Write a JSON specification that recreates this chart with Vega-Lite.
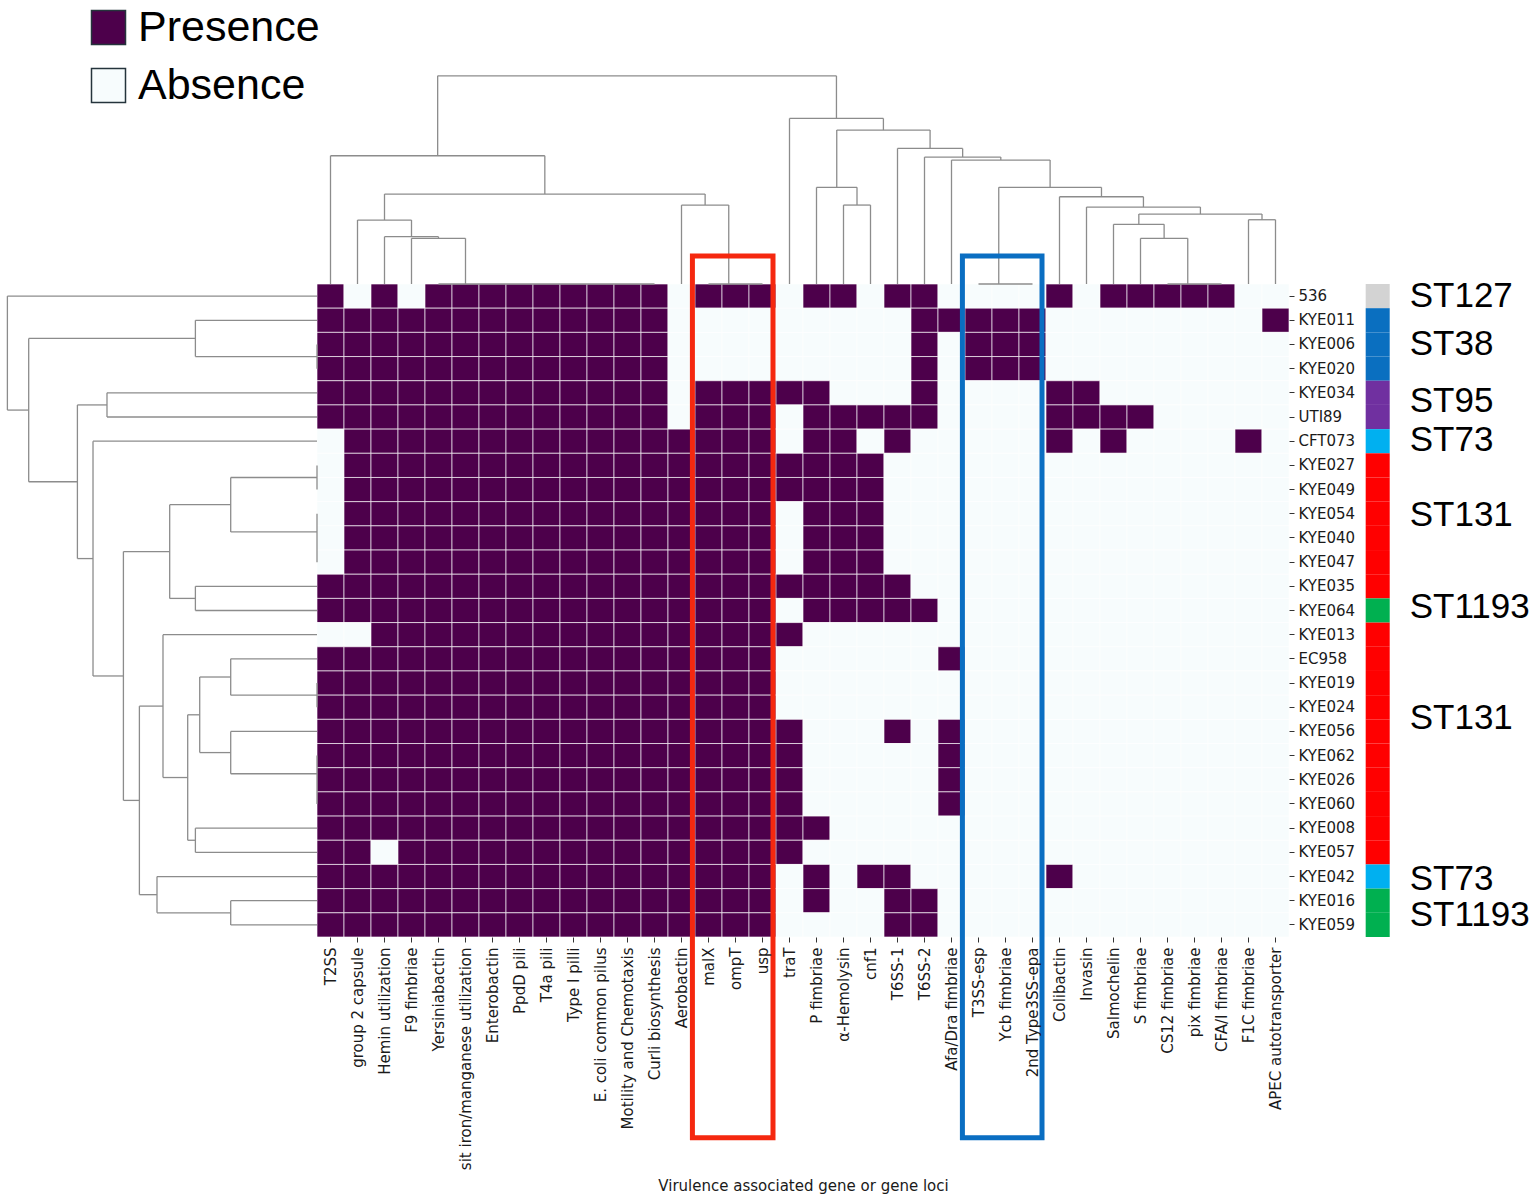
{
"$schema": "https://vega.github.io/schema/vega-lite/v6.json",
"width": 972, "height": 653,
"autosize": {"type": "none"},
"padding": {"left": 317, "top": 284, "right": 247, "bottom": 266},
"background": "white",
"config": {"view": {"stroke": null}, "font": "DejaVu Sans"},
"datasets": {
"cells": [
{"s":"536","g":"T2SS","v":"Presence"},{"s":"536","g":"group 2 capsule","v":"Absence"},{"s":"536","g":"Hemin utilization","v":"Presence"},{"s":"536","g":"F9 fimbriae","v":"Absence"},{"s":"536","g":"Yersiniabactin","v":"Presence"},{"s":"536","g":"sit iron/manganese utilization","v":"Presence"},{"s":"536","g":"Enterobactin","v":"Presence"},{"s":"536","g":"PpdD pili","v":"Presence"},{"s":"536","g":"T4a pili","v":"Presence"},{"s":"536","g":"Type I pilli","v":"Presence"},{"s":"536","g":"E. coli common pilus","v":"Presence"},{"s":"536","g":"Motility and Chemotaxis","v":"Presence"},{"s":"536","g":"Curli biosynthesis","v":"Presence"},{"s":"536","g":"Aerobactin","v":"Absence"},{"s":"536","g":"malX","v":"Presence"},{"s":"536","g":"ompT","v":"Presence"},{"s":"536","g":"usp","v":"Presence"},{"s":"536","g":"traT","v":"Absence"},{"s":"536","g":"P fimbriae","v":"Presence"},{"s":"536","g":"α-Hemolysin","v":"Presence"},{"s":"536","g":"cnf1","v":"Absence"},{"s":"536","g":"T6SS-1","v":"Presence"},{"s":"536","g":"T6SS-2","v":"Presence"},{"s":"536","g":"Afa/Dra fimbriae","v":"Absence"},{"s":"536","g":"T3SS-esp","v":"Absence"},{"s":"536","g":"Ycb fimbriae","v":"Absence"},{"s":"536","g":"2nd Type3SS-epa","v":"Absence"},{"s":"536","g":"Colibactin","v":"Presence"},{"s":"536","g":"Invasin","v":"Absence"},{"s":"536","g":"Salmochelin","v":"Presence"},{"s":"536","g":"S fimbriae","v":"Presence"},{"s":"536","g":"CS12 fimbriae","v":"Presence"},{"s":"536","g":"pix fimbriae","v":"Presence"},{"s":"536","g":"CFA/I fimbriae","v":"Presence"},{"s":"536","g":"F1C fimbriae","v":"Absence"},{"s":"536","g":"APEC autotransporter","v":"Absence"},
{"s":"KYE011","g":"T2SS","v":"Presence"},{"s":"KYE011","g":"group 2 capsule","v":"Presence"},{"s":"KYE011","g":"Hemin utilization","v":"Presence"},{"s":"KYE011","g":"F9 fimbriae","v":"Presence"},{"s":"KYE011","g":"Yersiniabactin","v":"Presence"},{"s":"KYE011","g":"sit iron/manganese utilization","v":"Presence"},{"s":"KYE011","g":"Enterobactin","v":"Presence"},{"s":"KYE011","g":"PpdD pili","v":"Presence"},{"s":"KYE011","g":"T4a pili","v":"Presence"},{"s":"KYE011","g":"Type I pilli","v":"Presence"},{"s":"KYE011","g":"E. coli common pilus","v":"Presence"},{"s":"KYE011","g":"Motility and Chemotaxis","v":"Presence"},{"s":"KYE011","g":"Curli biosynthesis","v":"Presence"},{"s":"KYE011","g":"Aerobactin","v":"Absence"},{"s":"KYE011","g":"malX","v":"Absence"},{"s":"KYE011","g":"ompT","v":"Absence"},{"s":"KYE011","g":"usp","v":"Absence"},{"s":"KYE011","g":"traT","v":"Absence"},{"s":"KYE011","g":"P fimbriae","v":"Absence"},{"s":"KYE011","g":"α-Hemolysin","v":"Absence"},{"s":"KYE011","g":"cnf1","v":"Absence"},{"s":"KYE011","g":"T6SS-1","v":"Absence"},{"s":"KYE011","g":"T6SS-2","v":"Presence"},{"s":"KYE011","g":"Afa/Dra fimbriae","v":"Presence"},{"s":"KYE011","g":"T3SS-esp","v":"Presence"},{"s":"KYE011","g":"Ycb fimbriae","v":"Presence"},{"s":"KYE011","g":"2nd Type3SS-epa","v":"Presence"},{"s":"KYE011","g":"Colibactin","v":"Absence"},{"s":"KYE011","g":"Invasin","v":"Absence"},{"s":"KYE011","g":"Salmochelin","v":"Absence"},{"s":"KYE011","g":"S fimbriae","v":"Absence"},{"s":"KYE011","g":"CS12 fimbriae","v":"Absence"},{"s":"KYE011","g":"pix fimbriae","v":"Absence"},{"s":"KYE011","g":"CFA/I fimbriae","v":"Absence"},{"s":"KYE011","g":"F1C fimbriae","v":"Absence"},{"s":"KYE011","g":"APEC autotransporter","v":"Presence"},
{"s":"KYE006","g":"T2SS","v":"Presence"},{"s":"KYE006","g":"group 2 capsule","v":"Presence"},{"s":"KYE006","g":"Hemin utilization","v":"Presence"},{"s":"KYE006","g":"F9 fimbriae","v":"Presence"},{"s":"KYE006","g":"Yersiniabactin","v":"Presence"},{"s":"KYE006","g":"sit iron/manganese utilization","v":"Presence"},{"s":"KYE006","g":"Enterobactin","v":"Presence"},{"s":"KYE006","g":"PpdD pili","v":"Presence"},{"s":"KYE006","g":"T4a pili","v":"Presence"},{"s":"KYE006","g":"Type I pilli","v":"Presence"},{"s":"KYE006","g":"E. coli common pilus","v":"Presence"},{"s":"KYE006","g":"Motility and Chemotaxis","v":"Presence"},{"s":"KYE006","g":"Curli biosynthesis","v":"Presence"},{"s":"KYE006","g":"Aerobactin","v":"Absence"},{"s":"KYE006","g":"malX","v":"Absence"},{"s":"KYE006","g":"ompT","v":"Absence"},{"s":"KYE006","g":"usp","v":"Absence"},{"s":"KYE006","g":"traT","v":"Absence"},{"s":"KYE006","g":"P fimbriae","v":"Absence"},{"s":"KYE006","g":"α-Hemolysin","v":"Absence"},{"s":"KYE006","g":"cnf1","v":"Absence"},{"s":"KYE006","g":"T6SS-1","v":"Absence"},{"s":"KYE006","g":"T6SS-2","v":"Presence"},{"s":"KYE006","g":"Afa/Dra fimbriae","v":"Absence"},{"s":"KYE006","g":"T3SS-esp","v":"Presence"},{"s":"KYE006","g":"Ycb fimbriae","v":"Presence"},{"s":"KYE006","g":"2nd Type3SS-epa","v":"Presence"},{"s":"KYE006","g":"Colibactin","v":"Absence"},{"s":"KYE006","g":"Invasin","v":"Absence"},{"s":"KYE006","g":"Salmochelin","v":"Absence"},{"s":"KYE006","g":"S fimbriae","v":"Absence"},{"s":"KYE006","g":"CS12 fimbriae","v":"Absence"},{"s":"KYE006","g":"pix fimbriae","v":"Absence"},{"s":"KYE006","g":"CFA/I fimbriae","v":"Absence"},{"s":"KYE006","g":"F1C fimbriae","v":"Absence"},{"s":"KYE006","g":"APEC autotransporter","v":"Absence"},
{"s":"KYE020","g":"T2SS","v":"Presence"},{"s":"KYE020","g":"group 2 capsule","v":"Presence"},{"s":"KYE020","g":"Hemin utilization","v":"Presence"},{"s":"KYE020","g":"F9 fimbriae","v":"Presence"},{"s":"KYE020","g":"Yersiniabactin","v":"Presence"},{"s":"KYE020","g":"sit iron/manganese utilization","v":"Presence"},{"s":"KYE020","g":"Enterobactin","v":"Presence"},{"s":"KYE020","g":"PpdD pili","v":"Presence"},{"s":"KYE020","g":"T4a pili","v":"Presence"},{"s":"KYE020","g":"Type I pilli","v":"Presence"},{"s":"KYE020","g":"E. coli common pilus","v":"Presence"},{"s":"KYE020","g":"Motility and Chemotaxis","v":"Presence"},{"s":"KYE020","g":"Curli biosynthesis","v":"Presence"},{"s":"KYE020","g":"Aerobactin","v":"Absence"},{"s":"KYE020","g":"malX","v":"Absence"},{"s":"KYE020","g":"ompT","v":"Absence"},{"s":"KYE020","g":"usp","v":"Absence"},{"s":"KYE020","g":"traT","v":"Absence"},{"s":"KYE020","g":"P fimbriae","v":"Absence"},{"s":"KYE020","g":"α-Hemolysin","v":"Absence"},{"s":"KYE020","g":"cnf1","v":"Absence"},{"s":"KYE020","g":"T6SS-1","v":"Absence"},{"s":"KYE020","g":"T6SS-2","v":"Presence"},{"s":"KYE020","g":"Afa/Dra fimbriae","v":"Absence"},{"s":"KYE020","g":"T3SS-esp","v":"Presence"},{"s":"KYE020","g":"Ycb fimbriae","v":"Presence"},{"s":"KYE020","g":"2nd Type3SS-epa","v":"Presence"},{"s":"KYE020","g":"Colibactin","v":"Absence"},{"s":"KYE020","g":"Invasin","v":"Absence"},{"s":"KYE020","g":"Salmochelin","v":"Absence"},{"s":"KYE020","g":"S fimbriae","v":"Absence"},{"s":"KYE020","g":"CS12 fimbriae","v":"Absence"},{"s":"KYE020","g":"pix fimbriae","v":"Absence"},{"s":"KYE020","g":"CFA/I fimbriae","v":"Absence"},{"s":"KYE020","g":"F1C fimbriae","v":"Absence"},{"s":"KYE020","g":"APEC autotransporter","v":"Absence"},
{"s":"KYE034","g":"T2SS","v":"Presence"},{"s":"KYE034","g":"group 2 capsule","v":"Presence"},{"s":"KYE034","g":"Hemin utilization","v":"Presence"},{"s":"KYE034","g":"F9 fimbriae","v":"Presence"},{"s":"KYE034","g":"Yersiniabactin","v":"Presence"},{"s":"KYE034","g":"sit iron/manganese utilization","v":"Presence"},{"s":"KYE034","g":"Enterobactin","v":"Presence"},{"s":"KYE034","g":"PpdD pili","v":"Presence"},{"s":"KYE034","g":"T4a pili","v":"Presence"},{"s":"KYE034","g":"Type I pilli","v":"Presence"},{"s":"KYE034","g":"E. coli common pilus","v":"Presence"},{"s":"KYE034","g":"Motility and Chemotaxis","v":"Presence"},{"s":"KYE034","g":"Curli biosynthesis","v":"Presence"},{"s":"KYE034","g":"Aerobactin","v":"Absence"},{"s":"KYE034","g":"malX","v":"Presence"},{"s":"KYE034","g":"ompT","v":"Presence"},{"s":"KYE034","g":"usp","v":"Presence"},{"s":"KYE034","g":"traT","v":"Presence"},{"s":"KYE034","g":"P fimbriae","v":"Presence"},{"s":"KYE034","g":"α-Hemolysin","v":"Absence"},{"s":"KYE034","g":"cnf1","v":"Absence"},{"s":"KYE034","g":"T6SS-1","v":"Absence"},{"s":"KYE034","g":"T6SS-2","v":"Presence"},{"s":"KYE034","g":"Afa/Dra fimbriae","v":"Absence"},{"s":"KYE034","g":"T3SS-esp","v":"Absence"},{"s":"KYE034","g":"Ycb fimbriae","v":"Absence"},{"s":"KYE034","g":"2nd Type3SS-epa","v":"Absence"},{"s":"KYE034","g":"Colibactin","v":"Presence"},{"s":"KYE034","g":"Invasin","v":"Presence"},{"s":"KYE034","g":"Salmochelin","v":"Absence"},{"s":"KYE034","g":"S fimbriae","v":"Absence"},{"s":"KYE034","g":"CS12 fimbriae","v":"Absence"},{"s":"KYE034","g":"pix fimbriae","v":"Absence"},{"s":"KYE034","g":"CFA/I fimbriae","v":"Absence"},{"s":"KYE034","g":"F1C fimbriae","v":"Absence"},{"s":"KYE034","g":"APEC autotransporter","v":"Absence"},
{"s":"UTI89","g":"T2SS","v":"Presence"},{"s":"UTI89","g":"group 2 capsule","v":"Presence"},{"s":"UTI89","g":"Hemin utilization","v":"Presence"},{"s":"UTI89","g":"F9 fimbriae","v":"Presence"},{"s":"UTI89","g":"Yersiniabactin","v":"Presence"},{"s":"UTI89","g":"sit iron/manganese utilization","v":"Presence"},{"s":"UTI89","g":"Enterobactin","v":"Presence"},{"s":"UTI89","g":"PpdD pili","v":"Presence"},{"s":"UTI89","g":"T4a pili","v":"Presence"},{"s":"UTI89","g":"Type I pilli","v":"Presence"},{"s":"UTI89","g":"E. coli common pilus","v":"Presence"},{"s":"UTI89","g":"Motility and Chemotaxis","v":"Presence"},{"s":"UTI89","g":"Curli biosynthesis","v":"Presence"},{"s":"UTI89","g":"Aerobactin","v":"Absence"},{"s":"UTI89","g":"malX","v":"Presence"},{"s":"UTI89","g":"ompT","v":"Presence"},{"s":"UTI89","g":"usp","v":"Presence"},{"s":"UTI89","g":"traT","v":"Absence"},{"s":"UTI89","g":"P fimbriae","v":"Presence"},{"s":"UTI89","g":"α-Hemolysin","v":"Presence"},{"s":"UTI89","g":"cnf1","v":"Presence"},{"s":"UTI89","g":"T6SS-1","v":"Presence"},{"s":"UTI89","g":"T6SS-2","v":"Presence"},{"s":"UTI89","g":"Afa/Dra fimbriae","v":"Absence"},{"s":"UTI89","g":"T3SS-esp","v":"Absence"},{"s":"UTI89","g":"Ycb fimbriae","v":"Absence"},{"s":"UTI89","g":"2nd Type3SS-epa","v":"Absence"},{"s":"UTI89","g":"Colibactin","v":"Presence"},{"s":"UTI89","g":"Invasin","v":"Presence"},{"s":"UTI89","g":"Salmochelin","v":"Presence"},{"s":"UTI89","g":"S fimbriae","v":"Presence"},{"s":"UTI89","g":"CS12 fimbriae","v":"Absence"},{"s":"UTI89","g":"pix fimbriae","v":"Absence"},{"s":"UTI89","g":"CFA/I fimbriae","v":"Absence"},{"s":"UTI89","g":"F1C fimbriae","v":"Absence"},{"s":"UTI89","g":"APEC autotransporter","v":"Absence"},
{"s":"CFT073","g":"T2SS","v":"Absence"},{"s":"CFT073","g":"group 2 capsule","v":"Presence"},{"s":"CFT073","g":"Hemin utilization","v":"Presence"},{"s":"CFT073","g":"F9 fimbriae","v":"Presence"},{"s":"CFT073","g":"Yersiniabactin","v":"Presence"},{"s":"CFT073","g":"sit iron/manganese utilization","v":"Presence"},{"s":"CFT073","g":"Enterobactin","v":"Presence"},{"s":"CFT073","g":"PpdD pili","v":"Presence"},{"s":"CFT073","g":"T4a pili","v":"Presence"},{"s":"CFT073","g":"Type I pilli","v":"Presence"},{"s":"CFT073","g":"E. coli common pilus","v":"Presence"},{"s":"CFT073","g":"Motility and Chemotaxis","v":"Presence"},{"s":"CFT073","g":"Curli biosynthesis","v":"Presence"},{"s":"CFT073","g":"Aerobactin","v":"Presence"},{"s":"CFT073","g":"malX","v":"Presence"},{"s":"CFT073","g":"ompT","v":"Presence"},{"s":"CFT073","g":"usp","v":"Presence"},{"s":"CFT073","g":"traT","v":"Absence"},{"s":"CFT073","g":"P fimbriae","v":"Presence"},{"s":"CFT073","g":"α-Hemolysin","v":"Presence"},{"s":"CFT073","g":"cnf1","v":"Absence"},{"s":"CFT073","g":"T6SS-1","v":"Presence"},{"s":"CFT073","g":"T6SS-2","v":"Absence"},{"s":"CFT073","g":"Afa/Dra fimbriae","v":"Absence"},{"s":"CFT073","g":"T3SS-esp","v":"Absence"},{"s":"CFT073","g":"Ycb fimbriae","v":"Absence"},{"s":"CFT073","g":"2nd Type3SS-epa","v":"Absence"},{"s":"CFT073","g":"Colibactin","v":"Presence"},{"s":"CFT073","g":"Invasin","v":"Absence"},{"s":"CFT073","g":"Salmochelin","v":"Presence"},{"s":"CFT073","g":"S fimbriae","v":"Absence"},{"s":"CFT073","g":"CS12 fimbriae","v":"Absence"},{"s":"CFT073","g":"pix fimbriae","v":"Absence"},{"s":"CFT073","g":"CFA/I fimbriae","v":"Absence"},{"s":"CFT073","g":"F1C fimbriae","v":"Presence"},{"s":"CFT073","g":"APEC autotransporter","v":"Absence"},
{"s":"KYE027","g":"T2SS","v":"Absence"},{"s":"KYE027","g":"group 2 capsule","v":"Presence"},{"s":"KYE027","g":"Hemin utilization","v":"Presence"},{"s":"KYE027","g":"F9 fimbriae","v":"Presence"},{"s":"KYE027","g":"Yersiniabactin","v":"Presence"},{"s":"KYE027","g":"sit iron/manganese utilization","v":"Presence"},{"s":"KYE027","g":"Enterobactin","v":"Presence"},{"s":"KYE027","g":"PpdD pili","v":"Presence"},{"s":"KYE027","g":"T4a pili","v":"Presence"},{"s":"KYE027","g":"Type I pilli","v":"Presence"},{"s":"KYE027","g":"E. coli common pilus","v":"Presence"},{"s":"KYE027","g":"Motility and Chemotaxis","v":"Presence"},{"s":"KYE027","g":"Curli biosynthesis","v":"Presence"},{"s":"KYE027","g":"Aerobactin","v":"Presence"},{"s":"KYE027","g":"malX","v":"Presence"},{"s":"KYE027","g":"ompT","v":"Presence"},{"s":"KYE027","g":"usp","v":"Presence"},{"s":"KYE027","g":"traT","v":"Presence"},{"s":"KYE027","g":"P fimbriae","v":"Presence"},{"s":"KYE027","g":"α-Hemolysin","v":"Presence"},{"s":"KYE027","g":"cnf1","v":"Presence"},{"s":"KYE027","g":"T6SS-1","v":"Absence"},{"s":"KYE027","g":"T6SS-2","v":"Absence"},{"s":"KYE027","g":"Afa/Dra fimbriae","v":"Absence"},{"s":"KYE027","g":"T3SS-esp","v":"Absence"},{"s":"KYE027","g":"Ycb fimbriae","v":"Absence"},{"s":"KYE027","g":"2nd Type3SS-epa","v":"Absence"},{"s":"KYE027","g":"Colibactin","v":"Absence"},{"s":"KYE027","g":"Invasin","v":"Absence"},{"s":"KYE027","g":"Salmochelin","v":"Absence"},{"s":"KYE027","g":"S fimbriae","v":"Absence"},{"s":"KYE027","g":"CS12 fimbriae","v":"Absence"},{"s":"KYE027","g":"pix fimbriae","v":"Absence"},{"s":"KYE027","g":"CFA/I fimbriae","v":"Absence"},{"s":"KYE027","g":"F1C fimbriae","v":"Absence"},{"s":"KYE027","g":"APEC autotransporter","v":"Absence"},
{"s":"KYE049","g":"T2SS","v":"Absence"},{"s":"KYE049","g":"group 2 capsule","v":"Presence"},{"s":"KYE049","g":"Hemin utilization","v":"Presence"},{"s":"KYE049","g":"F9 fimbriae","v":"Presence"},{"s":"KYE049","g":"Yersiniabactin","v":"Presence"},{"s":"KYE049","g":"sit iron/manganese utilization","v":"Presence"},{"s":"KYE049","g":"Enterobactin","v":"Presence"},{"s":"KYE049","g":"PpdD pili","v":"Presence"},{"s":"KYE049","g":"T4a pili","v":"Presence"},{"s":"KYE049","g":"Type I pilli","v":"Presence"},{"s":"KYE049","g":"E. coli common pilus","v":"Presence"},{"s":"KYE049","g":"Motility and Chemotaxis","v":"Presence"},{"s":"KYE049","g":"Curli biosynthesis","v":"Presence"},{"s":"KYE049","g":"Aerobactin","v":"Presence"},{"s":"KYE049","g":"malX","v":"Presence"},{"s":"KYE049","g":"ompT","v":"Presence"},{"s":"KYE049","g":"usp","v":"Presence"},{"s":"KYE049","g":"traT","v":"Presence"},{"s":"KYE049","g":"P fimbriae","v":"Presence"},{"s":"KYE049","g":"α-Hemolysin","v":"Presence"},{"s":"KYE049","g":"cnf1","v":"Presence"},{"s":"KYE049","g":"T6SS-1","v":"Absence"},{"s":"KYE049","g":"T6SS-2","v":"Absence"},{"s":"KYE049","g":"Afa/Dra fimbriae","v":"Absence"},{"s":"KYE049","g":"T3SS-esp","v":"Absence"},{"s":"KYE049","g":"Ycb fimbriae","v":"Absence"},{"s":"KYE049","g":"2nd Type3SS-epa","v":"Absence"},{"s":"KYE049","g":"Colibactin","v":"Absence"},{"s":"KYE049","g":"Invasin","v":"Absence"},{"s":"KYE049","g":"Salmochelin","v":"Absence"},{"s":"KYE049","g":"S fimbriae","v":"Absence"},{"s":"KYE049","g":"CS12 fimbriae","v":"Absence"},{"s":"KYE049","g":"pix fimbriae","v":"Absence"},{"s":"KYE049","g":"CFA/I fimbriae","v":"Absence"},{"s":"KYE049","g":"F1C fimbriae","v":"Absence"},{"s":"KYE049","g":"APEC autotransporter","v":"Absence"},
{"s":"KYE054","g":"T2SS","v":"Absence"},{"s":"KYE054","g":"group 2 capsule","v":"Presence"},{"s":"KYE054","g":"Hemin utilization","v":"Presence"},{"s":"KYE054","g":"F9 fimbriae","v":"Presence"},{"s":"KYE054","g":"Yersiniabactin","v":"Presence"},{"s":"KYE054","g":"sit iron/manganese utilization","v":"Presence"},{"s":"KYE054","g":"Enterobactin","v":"Presence"},{"s":"KYE054","g":"PpdD pili","v":"Presence"},{"s":"KYE054","g":"T4a pili","v":"Presence"},{"s":"KYE054","g":"Type I pilli","v":"Presence"},{"s":"KYE054","g":"E. coli common pilus","v":"Presence"},{"s":"KYE054","g":"Motility and Chemotaxis","v":"Presence"},{"s":"KYE054","g":"Curli biosynthesis","v":"Presence"},{"s":"KYE054","g":"Aerobactin","v":"Presence"},{"s":"KYE054","g":"malX","v":"Presence"},{"s":"KYE054","g":"ompT","v":"Presence"},{"s":"KYE054","g":"usp","v":"Presence"},{"s":"KYE054","g":"traT","v":"Absence"},{"s":"KYE054","g":"P fimbriae","v":"Presence"},{"s":"KYE054","g":"α-Hemolysin","v":"Presence"},{"s":"KYE054","g":"cnf1","v":"Presence"},{"s":"KYE054","g":"T6SS-1","v":"Absence"},{"s":"KYE054","g":"T6SS-2","v":"Absence"},{"s":"KYE054","g":"Afa/Dra fimbriae","v":"Absence"},{"s":"KYE054","g":"T3SS-esp","v":"Absence"},{"s":"KYE054","g":"Ycb fimbriae","v":"Absence"},{"s":"KYE054","g":"2nd Type3SS-epa","v":"Absence"},{"s":"KYE054","g":"Colibactin","v":"Absence"},{"s":"KYE054","g":"Invasin","v":"Absence"},{"s":"KYE054","g":"Salmochelin","v":"Absence"},{"s":"KYE054","g":"S fimbriae","v":"Absence"},{"s":"KYE054","g":"CS12 fimbriae","v":"Absence"},{"s":"KYE054","g":"pix fimbriae","v":"Absence"},{"s":"KYE054","g":"CFA/I fimbriae","v":"Absence"},{"s":"KYE054","g":"F1C fimbriae","v":"Absence"},{"s":"KYE054","g":"APEC autotransporter","v":"Absence"},
{"s":"KYE040","g":"T2SS","v":"Absence"},{"s":"KYE040","g":"group 2 capsule","v":"Presence"},{"s":"KYE040","g":"Hemin utilization","v":"Presence"},{"s":"KYE040","g":"F9 fimbriae","v":"Presence"},{"s":"KYE040","g":"Yersiniabactin","v":"Presence"},{"s":"KYE040","g":"sit iron/manganese utilization","v":"Presence"},{"s":"KYE040","g":"Enterobactin","v":"Presence"},{"s":"KYE040","g":"PpdD pili","v":"Presence"},{"s":"KYE040","g":"T4a pili","v":"Presence"},{"s":"KYE040","g":"Type I pilli","v":"Presence"},{"s":"KYE040","g":"E. coli common pilus","v":"Presence"},{"s":"KYE040","g":"Motility and Chemotaxis","v":"Presence"},{"s":"KYE040","g":"Curli biosynthesis","v":"Presence"},{"s":"KYE040","g":"Aerobactin","v":"Presence"},{"s":"KYE040","g":"malX","v":"Presence"},{"s":"KYE040","g":"ompT","v":"Presence"},{"s":"KYE040","g":"usp","v":"Presence"},{"s":"KYE040","g":"traT","v":"Absence"},{"s":"KYE040","g":"P fimbriae","v":"Presence"},{"s":"KYE040","g":"α-Hemolysin","v":"Presence"},{"s":"KYE040","g":"cnf1","v":"Presence"},{"s":"KYE040","g":"T6SS-1","v":"Absence"},{"s":"KYE040","g":"T6SS-2","v":"Absence"},{"s":"KYE040","g":"Afa/Dra fimbriae","v":"Absence"},{"s":"KYE040","g":"T3SS-esp","v":"Absence"},{"s":"KYE040","g":"Ycb fimbriae","v":"Absence"},{"s":"KYE040","g":"2nd Type3SS-epa","v":"Absence"},{"s":"KYE040","g":"Colibactin","v":"Absence"},{"s":"KYE040","g":"Invasin","v":"Absence"},{"s":"KYE040","g":"Salmochelin","v":"Absence"},{"s":"KYE040","g":"S fimbriae","v":"Absence"},{"s":"KYE040","g":"CS12 fimbriae","v":"Absence"},{"s":"KYE040","g":"pix fimbriae","v":"Absence"},{"s":"KYE040","g":"CFA/I fimbriae","v":"Absence"},{"s":"KYE040","g":"F1C fimbriae","v":"Absence"},{"s":"KYE040","g":"APEC autotransporter","v":"Absence"},
{"s":"KYE047","g":"T2SS","v":"Absence"},{"s":"KYE047","g":"group 2 capsule","v":"Presence"},{"s":"KYE047","g":"Hemin utilization","v":"Presence"},{"s":"KYE047","g":"F9 fimbriae","v":"Presence"},{"s":"KYE047","g":"Yersiniabactin","v":"Presence"},{"s":"KYE047","g":"sit iron/manganese utilization","v":"Presence"},{"s":"KYE047","g":"Enterobactin","v":"Presence"},{"s":"KYE047","g":"PpdD pili","v":"Presence"},{"s":"KYE047","g":"T4a pili","v":"Presence"},{"s":"KYE047","g":"Type I pilli","v":"Presence"},{"s":"KYE047","g":"E. coli common pilus","v":"Presence"},{"s":"KYE047","g":"Motility and Chemotaxis","v":"Presence"},{"s":"KYE047","g":"Curli biosynthesis","v":"Presence"},{"s":"KYE047","g":"Aerobactin","v":"Presence"},{"s":"KYE047","g":"malX","v":"Presence"},{"s":"KYE047","g":"ompT","v":"Presence"},{"s":"KYE047","g":"usp","v":"Presence"},{"s":"KYE047","g":"traT","v":"Absence"},{"s":"KYE047","g":"P fimbriae","v":"Presence"},{"s":"KYE047","g":"α-Hemolysin","v":"Presence"},{"s":"KYE047","g":"cnf1","v":"Presence"},{"s":"KYE047","g":"T6SS-1","v":"Absence"},{"s":"KYE047","g":"T6SS-2","v":"Absence"},{"s":"KYE047","g":"Afa/Dra fimbriae","v":"Absence"},{"s":"KYE047","g":"T3SS-esp","v":"Absence"},{"s":"KYE047","g":"Ycb fimbriae","v":"Absence"},{"s":"KYE047","g":"2nd Type3SS-epa","v":"Absence"},{"s":"KYE047","g":"Colibactin","v":"Absence"},{"s":"KYE047","g":"Invasin","v":"Absence"},{"s":"KYE047","g":"Salmochelin","v":"Absence"},{"s":"KYE047","g":"S fimbriae","v":"Absence"},{"s":"KYE047","g":"CS12 fimbriae","v":"Absence"},{"s":"KYE047","g":"pix fimbriae","v":"Absence"},{"s":"KYE047","g":"CFA/I fimbriae","v":"Absence"},{"s":"KYE047","g":"F1C fimbriae","v":"Absence"},{"s":"KYE047","g":"APEC autotransporter","v":"Absence"},
{"s":"KYE035","g":"T2SS","v":"Presence"},{"s":"KYE035","g":"group 2 capsule","v":"Presence"},{"s":"KYE035","g":"Hemin utilization","v":"Presence"},{"s":"KYE035","g":"F9 fimbriae","v":"Presence"},{"s":"KYE035","g":"Yersiniabactin","v":"Presence"},{"s":"KYE035","g":"sit iron/manganese utilization","v":"Presence"},{"s":"KYE035","g":"Enterobactin","v":"Presence"},{"s":"KYE035","g":"PpdD pili","v":"Presence"},{"s":"KYE035","g":"T4a pili","v":"Presence"},{"s":"KYE035","g":"Type I pilli","v":"Presence"},{"s":"KYE035","g":"E. coli common pilus","v":"Presence"},{"s":"KYE035","g":"Motility and Chemotaxis","v":"Presence"},{"s":"KYE035","g":"Curli biosynthesis","v":"Presence"},{"s":"KYE035","g":"Aerobactin","v":"Presence"},{"s":"KYE035","g":"malX","v":"Presence"},{"s":"KYE035","g":"ompT","v":"Presence"},{"s":"KYE035","g":"usp","v":"Presence"},{"s":"KYE035","g":"traT","v":"Presence"},{"s":"KYE035","g":"P fimbriae","v":"Presence"},{"s":"KYE035","g":"α-Hemolysin","v":"Presence"},{"s":"KYE035","g":"cnf1","v":"Presence"},{"s":"KYE035","g":"T6SS-1","v":"Presence"},{"s":"KYE035","g":"T6SS-2","v":"Absence"},{"s":"KYE035","g":"Afa/Dra fimbriae","v":"Absence"},{"s":"KYE035","g":"T3SS-esp","v":"Absence"},{"s":"KYE035","g":"Ycb fimbriae","v":"Absence"},{"s":"KYE035","g":"2nd Type3SS-epa","v":"Absence"},{"s":"KYE035","g":"Colibactin","v":"Absence"},{"s":"KYE035","g":"Invasin","v":"Absence"},{"s":"KYE035","g":"Salmochelin","v":"Absence"},{"s":"KYE035","g":"S fimbriae","v":"Absence"},{"s":"KYE035","g":"CS12 fimbriae","v":"Absence"},{"s":"KYE035","g":"pix fimbriae","v":"Absence"},{"s":"KYE035","g":"CFA/I fimbriae","v":"Absence"},{"s":"KYE035","g":"F1C fimbriae","v":"Absence"},{"s":"KYE035","g":"APEC autotransporter","v":"Absence"},
{"s":"KYE064","g":"T2SS","v":"Presence"},{"s":"KYE064","g":"group 2 capsule","v":"Presence"},{"s":"KYE064","g":"Hemin utilization","v":"Presence"},{"s":"KYE064","g":"F9 fimbriae","v":"Presence"},{"s":"KYE064","g":"Yersiniabactin","v":"Presence"},{"s":"KYE064","g":"sit iron/manganese utilization","v":"Presence"},{"s":"KYE064","g":"Enterobactin","v":"Presence"},{"s":"KYE064","g":"PpdD pili","v":"Presence"},{"s":"KYE064","g":"T4a pili","v":"Presence"},{"s":"KYE064","g":"Type I pilli","v":"Presence"},{"s":"KYE064","g":"E. coli common pilus","v":"Presence"},{"s":"KYE064","g":"Motility and Chemotaxis","v":"Presence"},{"s":"KYE064","g":"Curli biosynthesis","v":"Presence"},{"s":"KYE064","g":"Aerobactin","v":"Presence"},{"s":"KYE064","g":"malX","v":"Presence"},{"s":"KYE064","g":"ompT","v":"Presence"},{"s":"KYE064","g":"usp","v":"Presence"},{"s":"KYE064","g":"traT","v":"Absence"},{"s":"KYE064","g":"P fimbriae","v":"Presence"},{"s":"KYE064","g":"α-Hemolysin","v":"Presence"},{"s":"KYE064","g":"cnf1","v":"Presence"},{"s":"KYE064","g":"T6SS-1","v":"Presence"},{"s":"KYE064","g":"T6SS-2","v":"Presence"},{"s":"KYE064","g":"Afa/Dra fimbriae","v":"Absence"},{"s":"KYE064","g":"T3SS-esp","v":"Absence"},{"s":"KYE064","g":"Ycb fimbriae","v":"Absence"},{"s":"KYE064","g":"2nd Type3SS-epa","v":"Absence"},{"s":"KYE064","g":"Colibactin","v":"Absence"},{"s":"KYE064","g":"Invasin","v":"Absence"},{"s":"KYE064","g":"Salmochelin","v":"Absence"},{"s":"KYE064","g":"S fimbriae","v":"Absence"},{"s":"KYE064","g":"CS12 fimbriae","v":"Absence"},{"s":"KYE064","g":"pix fimbriae","v":"Absence"},{"s":"KYE064","g":"CFA/I fimbriae","v":"Absence"},{"s":"KYE064","g":"F1C fimbriae","v":"Absence"},{"s":"KYE064","g":"APEC autotransporter","v":"Absence"},
{"s":"KYE013","g":"T2SS","v":"Absence"},{"s":"KYE013","g":"group 2 capsule","v":"Absence"},{"s":"KYE013","g":"Hemin utilization","v":"Presence"},{"s":"KYE013","g":"F9 fimbriae","v":"Presence"},{"s":"KYE013","g":"Yersiniabactin","v":"Presence"},{"s":"KYE013","g":"sit iron/manganese utilization","v":"Presence"},{"s":"KYE013","g":"Enterobactin","v":"Presence"},{"s":"KYE013","g":"PpdD pili","v":"Presence"},{"s":"KYE013","g":"T4a pili","v":"Presence"},{"s":"KYE013","g":"Type I pilli","v":"Presence"},{"s":"KYE013","g":"E. coli common pilus","v":"Presence"},{"s":"KYE013","g":"Motility and Chemotaxis","v":"Presence"},{"s":"KYE013","g":"Curli biosynthesis","v":"Presence"},{"s":"KYE013","g":"Aerobactin","v":"Presence"},{"s":"KYE013","g":"malX","v":"Presence"},{"s":"KYE013","g":"ompT","v":"Presence"},{"s":"KYE013","g":"usp","v":"Presence"},{"s":"KYE013","g":"traT","v":"Presence"},{"s":"KYE013","g":"P fimbriae","v":"Absence"},{"s":"KYE013","g":"α-Hemolysin","v":"Absence"},{"s":"KYE013","g":"cnf1","v":"Absence"},{"s":"KYE013","g":"T6SS-1","v":"Absence"},{"s":"KYE013","g":"T6SS-2","v":"Absence"},{"s":"KYE013","g":"Afa/Dra fimbriae","v":"Absence"},{"s":"KYE013","g":"T3SS-esp","v":"Absence"},{"s":"KYE013","g":"Ycb fimbriae","v":"Absence"},{"s":"KYE013","g":"2nd Type3SS-epa","v":"Absence"},{"s":"KYE013","g":"Colibactin","v":"Absence"},{"s":"KYE013","g":"Invasin","v":"Absence"},{"s":"KYE013","g":"Salmochelin","v":"Absence"},{"s":"KYE013","g":"S fimbriae","v":"Absence"},{"s":"KYE013","g":"CS12 fimbriae","v":"Absence"},{"s":"KYE013","g":"pix fimbriae","v":"Absence"},{"s":"KYE013","g":"CFA/I fimbriae","v":"Absence"},{"s":"KYE013","g":"F1C fimbriae","v":"Absence"},{"s":"KYE013","g":"APEC autotransporter","v":"Absence"},
{"s":"EC958","g":"T2SS","v":"Presence"},{"s":"EC958","g":"group 2 capsule","v":"Presence"},{"s":"EC958","g":"Hemin utilization","v":"Presence"},{"s":"EC958","g":"F9 fimbriae","v":"Presence"},{"s":"EC958","g":"Yersiniabactin","v":"Presence"},{"s":"EC958","g":"sit iron/manganese utilization","v":"Presence"},{"s":"EC958","g":"Enterobactin","v":"Presence"},{"s":"EC958","g":"PpdD pili","v":"Presence"},{"s":"EC958","g":"T4a pili","v":"Presence"},{"s":"EC958","g":"Type I pilli","v":"Presence"},{"s":"EC958","g":"E. coli common pilus","v":"Presence"},{"s":"EC958","g":"Motility and Chemotaxis","v":"Presence"},{"s":"EC958","g":"Curli biosynthesis","v":"Presence"},{"s":"EC958","g":"Aerobactin","v":"Presence"},{"s":"EC958","g":"malX","v":"Presence"},{"s":"EC958","g":"ompT","v":"Presence"},{"s":"EC958","g":"usp","v":"Presence"},{"s":"EC958","g":"traT","v":"Absence"},{"s":"EC958","g":"P fimbriae","v":"Absence"},{"s":"EC958","g":"α-Hemolysin","v":"Absence"},{"s":"EC958","g":"cnf1","v":"Absence"},{"s":"EC958","g":"T6SS-1","v":"Absence"},{"s":"EC958","g":"T6SS-2","v":"Absence"},{"s":"EC958","g":"Afa/Dra fimbriae","v":"Presence"},{"s":"EC958","g":"T3SS-esp","v":"Absence"},{"s":"EC958","g":"Ycb fimbriae","v":"Absence"},{"s":"EC958","g":"2nd Type3SS-epa","v":"Absence"},{"s":"EC958","g":"Colibactin","v":"Absence"},{"s":"EC958","g":"Invasin","v":"Absence"},{"s":"EC958","g":"Salmochelin","v":"Absence"},{"s":"EC958","g":"S fimbriae","v":"Absence"},{"s":"EC958","g":"CS12 fimbriae","v":"Absence"},{"s":"EC958","g":"pix fimbriae","v":"Absence"},{"s":"EC958","g":"CFA/I fimbriae","v":"Absence"},{"s":"EC958","g":"F1C fimbriae","v":"Absence"},{"s":"EC958","g":"APEC autotransporter","v":"Absence"},
{"s":"KYE019","g":"T2SS","v":"Presence"},{"s":"KYE019","g":"group 2 capsule","v":"Presence"},{"s":"KYE019","g":"Hemin utilization","v":"Presence"},{"s":"KYE019","g":"F9 fimbriae","v":"Presence"},{"s":"KYE019","g":"Yersiniabactin","v":"Presence"},{"s":"KYE019","g":"sit iron/manganese utilization","v":"Presence"},{"s":"KYE019","g":"Enterobactin","v":"Presence"},{"s":"KYE019","g":"PpdD pili","v":"Presence"},{"s":"KYE019","g":"T4a pili","v":"Presence"},{"s":"KYE019","g":"Type I pilli","v":"Presence"},{"s":"KYE019","g":"E. coli common pilus","v":"Presence"},{"s":"KYE019","g":"Motility and Chemotaxis","v":"Presence"},{"s":"KYE019","g":"Curli biosynthesis","v":"Presence"},{"s":"KYE019","g":"Aerobactin","v":"Presence"},{"s":"KYE019","g":"malX","v":"Presence"},{"s":"KYE019","g":"ompT","v":"Presence"},{"s":"KYE019","g":"usp","v":"Presence"},{"s":"KYE019","g":"traT","v":"Absence"},{"s":"KYE019","g":"P fimbriae","v":"Absence"},{"s":"KYE019","g":"α-Hemolysin","v":"Absence"},{"s":"KYE019","g":"cnf1","v":"Absence"},{"s":"KYE019","g":"T6SS-1","v":"Absence"},{"s":"KYE019","g":"T6SS-2","v":"Absence"},{"s":"KYE019","g":"Afa/Dra fimbriae","v":"Absence"},{"s":"KYE019","g":"T3SS-esp","v":"Absence"},{"s":"KYE019","g":"Ycb fimbriae","v":"Absence"},{"s":"KYE019","g":"2nd Type3SS-epa","v":"Absence"},{"s":"KYE019","g":"Colibactin","v":"Absence"},{"s":"KYE019","g":"Invasin","v":"Absence"},{"s":"KYE019","g":"Salmochelin","v":"Absence"},{"s":"KYE019","g":"S fimbriae","v":"Absence"},{"s":"KYE019","g":"CS12 fimbriae","v":"Absence"},{"s":"KYE019","g":"pix fimbriae","v":"Absence"},{"s":"KYE019","g":"CFA/I fimbriae","v":"Absence"},{"s":"KYE019","g":"F1C fimbriae","v":"Absence"},{"s":"KYE019","g":"APEC autotransporter","v":"Absence"},
{"s":"KYE024","g":"T2SS","v":"Presence"},{"s":"KYE024","g":"group 2 capsule","v":"Presence"},{"s":"KYE024","g":"Hemin utilization","v":"Presence"},{"s":"KYE024","g":"F9 fimbriae","v":"Presence"},{"s":"KYE024","g":"Yersiniabactin","v":"Presence"},{"s":"KYE024","g":"sit iron/manganese utilization","v":"Presence"},{"s":"KYE024","g":"Enterobactin","v":"Presence"},{"s":"KYE024","g":"PpdD pili","v":"Presence"},{"s":"KYE024","g":"T4a pili","v":"Presence"},{"s":"KYE024","g":"Type I pilli","v":"Presence"},{"s":"KYE024","g":"E. coli common pilus","v":"Presence"},{"s":"KYE024","g":"Motility and Chemotaxis","v":"Presence"},{"s":"KYE024","g":"Curli biosynthesis","v":"Presence"},{"s":"KYE024","g":"Aerobactin","v":"Presence"},{"s":"KYE024","g":"malX","v":"Presence"},{"s":"KYE024","g":"ompT","v":"Presence"},{"s":"KYE024","g":"usp","v":"Presence"},{"s":"KYE024","g":"traT","v":"Absence"},{"s":"KYE024","g":"P fimbriae","v":"Absence"},{"s":"KYE024","g":"α-Hemolysin","v":"Absence"},{"s":"KYE024","g":"cnf1","v":"Absence"},{"s":"KYE024","g":"T6SS-1","v":"Absence"},{"s":"KYE024","g":"T6SS-2","v":"Absence"},{"s":"KYE024","g":"Afa/Dra fimbriae","v":"Absence"},{"s":"KYE024","g":"T3SS-esp","v":"Absence"},{"s":"KYE024","g":"Ycb fimbriae","v":"Absence"},{"s":"KYE024","g":"2nd Type3SS-epa","v":"Absence"},{"s":"KYE024","g":"Colibactin","v":"Absence"},{"s":"KYE024","g":"Invasin","v":"Absence"},{"s":"KYE024","g":"Salmochelin","v":"Absence"},{"s":"KYE024","g":"S fimbriae","v":"Absence"},{"s":"KYE024","g":"CS12 fimbriae","v":"Absence"},{"s":"KYE024","g":"pix fimbriae","v":"Absence"},{"s":"KYE024","g":"CFA/I fimbriae","v":"Absence"},{"s":"KYE024","g":"F1C fimbriae","v":"Absence"},{"s":"KYE024","g":"APEC autotransporter","v":"Absence"},
{"s":"KYE056","g":"T2SS","v":"Presence"},{"s":"KYE056","g":"group 2 capsule","v":"Presence"},{"s":"KYE056","g":"Hemin utilization","v":"Presence"},{"s":"KYE056","g":"F9 fimbriae","v":"Presence"},{"s":"KYE056","g":"Yersiniabactin","v":"Presence"},{"s":"KYE056","g":"sit iron/manganese utilization","v":"Presence"},{"s":"KYE056","g":"Enterobactin","v":"Presence"},{"s":"KYE056","g":"PpdD pili","v":"Presence"},{"s":"KYE056","g":"T4a pili","v":"Presence"},{"s":"KYE056","g":"Type I pilli","v":"Presence"},{"s":"KYE056","g":"E. coli common pilus","v":"Presence"},{"s":"KYE056","g":"Motility and Chemotaxis","v":"Presence"},{"s":"KYE056","g":"Curli biosynthesis","v":"Presence"},{"s":"KYE056","g":"Aerobactin","v":"Presence"},{"s":"KYE056","g":"malX","v":"Presence"},{"s":"KYE056","g":"ompT","v":"Presence"},{"s":"KYE056","g":"usp","v":"Presence"},{"s":"KYE056","g":"traT","v":"Presence"},{"s":"KYE056","g":"P fimbriae","v":"Absence"},{"s":"KYE056","g":"α-Hemolysin","v":"Absence"},{"s":"KYE056","g":"cnf1","v":"Absence"},{"s":"KYE056","g":"T6SS-1","v":"Presence"},{"s":"KYE056","g":"T6SS-2","v":"Absence"},{"s":"KYE056","g":"Afa/Dra fimbriae","v":"Presence"},{"s":"KYE056","g":"T3SS-esp","v":"Absence"},{"s":"KYE056","g":"Ycb fimbriae","v":"Absence"},{"s":"KYE056","g":"2nd Type3SS-epa","v":"Absence"},{"s":"KYE056","g":"Colibactin","v":"Absence"},{"s":"KYE056","g":"Invasin","v":"Absence"},{"s":"KYE056","g":"Salmochelin","v":"Absence"},{"s":"KYE056","g":"S fimbriae","v":"Absence"},{"s":"KYE056","g":"CS12 fimbriae","v":"Absence"},{"s":"KYE056","g":"pix fimbriae","v":"Absence"},{"s":"KYE056","g":"CFA/I fimbriae","v":"Absence"},{"s":"KYE056","g":"F1C fimbriae","v":"Absence"},{"s":"KYE056","g":"APEC autotransporter","v":"Absence"},
{"s":"KYE062","g":"T2SS","v":"Presence"},{"s":"KYE062","g":"group 2 capsule","v":"Presence"},{"s":"KYE062","g":"Hemin utilization","v":"Presence"},{"s":"KYE062","g":"F9 fimbriae","v":"Presence"},{"s":"KYE062","g":"Yersiniabactin","v":"Presence"},{"s":"KYE062","g":"sit iron/manganese utilization","v":"Presence"},{"s":"KYE062","g":"Enterobactin","v":"Presence"},{"s":"KYE062","g":"PpdD pili","v":"Presence"},{"s":"KYE062","g":"T4a pili","v":"Presence"},{"s":"KYE062","g":"Type I pilli","v":"Presence"},{"s":"KYE062","g":"E. coli common pilus","v":"Presence"},{"s":"KYE062","g":"Motility and Chemotaxis","v":"Presence"},{"s":"KYE062","g":"Curli biosynthesis","v":"Presence"},{"s":"KYE062","g":"Aerobactin","v":"Presence"},{"s":"KYE062","g":"malX","v":"Presence"},{"s":"KYE062","g":"ompT","v":"Presence"},{"s":"KYE062","g":"usp","v":"Presence"},{"s":"KYE062","g":"traT","v":"Presence"},{"s":"KYE062","g":"P fimbriae","v":"Absence"},{"s":"KYE062","g":"α-Hemolysin","v":"Absence"},{"s":"KYE062","g":"cnf1","v":"Absence"},{"s":"KYE062","g":"T6SS-1","v":"Absence"},{"s":"KYE062","g":"T6SS-2","v":"Absence"},{"s":"KYE062","g":"Afa/Dra fimbriae","v":"Presence"},{"s":"KYE062","g":"T3SS-esp","v":"Absence"},{"s":"KYE062","g":"Ycb fimbriae","v":"Absence"},{"s":"KYE062","g":"2nd Type3SS-epa","v":"Absence"},{"s":"KYE062","g":"Colibactin","v":"Absence"},{"s":"KYE062","g":"Invasin","v":"Absence"},{"s":"KYE062","g":"Salmochelin","v":"Absence"},{"s":"KYE062","g":"S fimbriae","v":"Absence"},{"s":"KYE062","g":"CS12 fimbriae","v":"Absence"},{"s":"KYE062","g":"pix fimbriae","v":"Absence"},{"s":"KYE062","g":"CFA/I fimbriae","v":"Absence"},{"s":"KYE062","g":"F1C fimbriae","v":"Absence"},{"s":"KYE062","g":"APEC autotransporter","v":"Absence"},
{"s":"KYE026","g":"T2SS","v":"Presence"},{"s":"KYE026","g":"group 2 capsule","v":"Presence"},{"s":"KYE026","g":"Hemin utilization","v":"Presence"},{"s":"KYE026","g":"F9 fimbriae","v":"Presence"},{"s":"KYE026","g":"Yersiniabactin","v":"Presence"},{"s":"KYE026","g":"sit iron/manganese utilization","v":"Presence"},{"s":"KYE026","g":"Enterobactin","v":"Presence"},{"s":"KYE026","g":"PpdD pili","v":"Presence"},{"s":"KYE026","g":"T4a pili","v":"Presence"},{"s":"KYE026","g":"Type I pilli","v":"Presence"},{"s":"KYE026","g":"E. coli common pilus","v":"Presence"},{"s":"KYE026","g":"Motility and Chemotaxis","v":"Presence"},{"s":"KYE026","g":"Curli biosynthesis","v":"Presence"},{"s":"KYE026","g":"Aerobactin","v":"Presence"},{"s":"KYE026","g":"malX","v":"Presence"},{"s":"KYE026","g":"ompT","v":"Presence"},{"s":"KYE026","g":"usp","v":"Presence"},{"s":"KYE026","g":"traT","v":"Presence"},{"s":"KYE026","g":"P fimbriae","v":"Absence"},{"s":"KYE026","g":"α-Hemolysin","v":"Absence"},{"s":"KYE026","g":"cnf1","v":"Absence"},{"s":"KYE026","g":"T6SS-1","v":"Absence"},{"s":"KYE026","g":"T6SS-2","v":"Absence"},{"s":"KYE026","g":"Afa/Dra fimbriae","v":"Presence"},{"s":"KYE026","g":"T3SS-esp","v":"Absence"},{"s":"KYE026","g":"Ycb fimbriae","v":"Absence"},{"s":"KYE026","g":"2nd Type3SS-epa","v":"Absence"},{"s":"KYE026","g":"Colibactin","v":"Absence"},{"s":"KYE026","g":"Invasin","v":"Absence"},{"s":"KYE026","g":"Salmochelin","v":"Absence"},{"s":"KYE026","g":"S fimbriae","v":"Absence"},{"s":"KYE026","g":"CS12 fimbriae","v":"Absence"},{"s":"KYE026","g":"pix fimbriae","v":"Absence"},{"s":"KYE026","g":"CFA/I fimbriae","v":"Absence"},{"s":"KYE026","g":"F1C fimbriae","v":"Absence"},{"s":"KYE026","g":"APEC autotransporter","v":"Absence"},
{"s":"KYE060","g":"T2SS","v":"Presence"},{"s":"KYE060","g":"group 2 capsule","v":"Presence"},{"s":"KYE060","g":"Hemin utilization","v":"Presence"},{"s":"KYE060","g":"F9 fimbriae","v":"Presence"},{"s":"KYE060","g":"Yersiniabactin","v":"Presence"},{"s":"KYE060","g":"sit iron/manganese utilization","v":"Presence"},{"s":"KYE060","g":"Enterobactin","v":"Presence"},{"s":"KYE060","g":"PpdD pili","v":"Presence"},{"s":"KYE060","g":"T4a pili","v":"Presence"},{"s":"KYE060","g":"Type I pilli","v":"Presence"},{"s":"KYE060","g":"E. coli common pilus","v":"Presence"},{"s":"KYE060","g":"Motility and Chemotaxis","v":"Presence"},{"s":"KYE060","g":"Curli biosynthesis","v":"Presence"},{"s":"KYE060","g":"Aerobactin","v":"Presence"},{"s":"KYE060","g":"malX","v":"Presence"},{"s":"KYE060","g":"ompT","v":"Presence"},{"s":"KYE060","g":"usp","v":"Presence"},{"s":"KYE060","g":"traT","v":"Presence"},{"s":"KYE060","g":"P fimbriae","v":"Absence"},{"s":"KYE060","g":"α-Hemolysin","v":"Absence"},{"s":"KYE060","g":"cnf1","v":"Absence"},{"s":"KYE060","g":"T6SS-1","v":"Absence"},{"s":"KYE060","g":"T6SS-2","v":"Absence"},{"s":"KYE060","g":"Afa/Dra fimbriae","v":"Presence"},{"s":"KYE060","g":"T3SS-esp","v":"Absence"},{"s":"KYE060","g":"Ycb fimbriae","v":"Absence"},{"s":"KYE060","g":"2nd Type3SS-epa","v":"Absence"},{"s":"KYE060","g":"Colibactin","v":"Absence"},{"s":"KYE060","g":"Invasin","v":"Absence"},{"s":"KYE060","g":"Salmochelin","v":"Absence"},{"s":"KYE060","g":"S fimbriae","v":"Absence"},{"s":"KYE060","g":"CS12 fimbriae","v":"Absence"},{"s":"KYE060","g":"pix fimbriae","v":"Absence"},{"s":"KYE060","g":"CFA/I fimbriae","v":"Absence"},{"s":"KYE060","g":"F1C fimbriae","v":"Absence"},{"s":"KYE060","g":"APEC autotransporter","v":"Absence"},
{"s":"KYE008","g":"T2SS","v":"Presence"},{"s":"KYE008","g":"group 2 capsule","v":"Presence"},{"s":"KYE008","g":"Hemin utilization","v":"Presence"},{"s":"KYE008","g":"F9 fimbriae","v":"Presence"},{"s":"KYE008","g":"Yersiniabactin","v":"Presence"},{"s":"KYE008","g":"sit iron/manganese utilization","v":"Presence"},{"s":"KYE008","g":"Enterobactin","v":"Presence"},{"s":"KYE008","g":"PpdD pili","v":"Presence"},{"s":"KYE008","g":"T4a pili","v":"Presence"},{"s":"KYE008","g":"Type I pilli","v":"Presence"},{"s":"KYE008","g":"E. coli common pilus","v":"Presence"},{"s":"KYE008","g":"Motility and Chemotaxis","v":"Presence"},{"s":"KYE008","g":"Curli biosynthesis","v":"Presence"},{"s":"KYE008","g":"Aerobactin","v":"Presence"},{"s":"KYE008","g":"malX","v":"Presence"},{"s":"KYE008","g":"ompT","v":"Presence"},{"s":"KYE008","g":"usp","v":"Presence"},{"s":"KYE008","g":"traT","v":"Presence"},{"s":"KYE008","g":"P fimbriae","v":"Presence"},{"s":"KYE008","g":"α-Hemolysin","v":"Absence"},{"s":"KYE008","g":"cnf1","v":"Absence"},{"s":"KYE008","g":"T6SS-1","v":"Absence"},{"s":"KYE008","g":"T6SS-2","v":"Absence"},{"s":"KYE008","g":"Afa/Dra fimbriae","v":"Absence"},{"s":"KYE008","g":"T3SS-esp","v":"Absence"},{"s":"KYE008","g":"Ycb fimbriae","v":"Absence"},{"s":"KYE008","g":"2nd Type3SS-epa","v":"Absence"},{"s":"KYE008","g":"Colibactin","v":"Absence"},{"s":"KYE008","g":"Invasin","v":"Absence"},{"s":"KYE008","g":"Salmochelin","v":"Absence"},{"s":"KYE008","g":"S fimbriae","v":"Absence"},{"s":"KYE008","g":"CS12 fimbriae","v":"Absence"},{"s":"KYE008","g":"pix fimbriae","v":"Absence"},{"s":"KYE008","g":"CFA/I fimbriae","v":"Absence"},{"s":"KYE008","g":"F1C fimbriae","v":"Absence"},{"s":"KYE008","g":"APEC autotransporter","v":"Absence"},
{"s":"KYE057","g":"T2SS","v":"Presence"},{"s":"KYE057","g":"group 2 capsule","v":"Presence"},{"s":"KYE057","g":"Hemin utilization","v":"Absence"},{"s":"KYE057","g":"F9 fimbriae","v":"Presence"},{"s":"KYE057","g":"Yersiniabactin","v":"Presence"},{"s":"KYE057","g":"sit iron/manganese utilization","v":"Presence"},{"s":"KYE057","g":"Enterobactin","v":"Presence"},{"s":"KYE057","g":"PpdD pili","v":"Presence"},{"s":"KYE057","g":"T4a pili","v":"Presence"},{"s":"KYE057","g":"Type I pilli","v":"Presence"},{"s":"KYE057","g":"E. coli common pilus","v":"Presence"},{"s":"KYE057","g":"Motility and Chemotaxis","v":"Presence"},{"s":"KYE057","g":"Curli biosynthesis","v":"Presence"},{"s":"KYE057","g":"Aerobactin","v":"Presence"},{"s":"KYE057","g":"malX","v":"Presence"},{"s":"KYE057","g":"ompT","v":"Presence"},{"s":"KYE057","g":"usp","v":"Presence"},{"s":"KYE057","g":"traT","v":"Presence"},{"s":"KYE057","g":"P fimbriae","v":"Absence"},{"s":"KYE057","g":"α-Hemolysin","v":"Absence"},{"s":"KYE057","g":"cnf1","v":"Absence"},{"s":"KYE057","g":"T6SS-1","v":"Absence"},{"s":"KYE057","g":"T6SS-2","v":"Absence"},{"s":"KYE057","g":"Afa/Dra fimbriae","v":"Absence"},{"s":"KYE057","g":"T3SS-esp","v":"Absence"},{"s":"KYE057","g":"Ycb fimbriae","v":"Absence"},{"s":"KYE057","g":"2nd Type3SS-epa","v":"Absence"},{"s":"KYE057","g":"Colibactin","v":"Absence"},{"s":"KYE057","g":"Invasin","v":"Absence"},{"s":"KYE057","g":"Salmochelin","v":"Absence"},{"s":"KYE057","g":"S fimbriae","v":"Absence"},{"s":"KYE057","g":"CS12 fimbriae","v":"Absence"},{"s":"KYE057","g":"pix fimbriae","v":"Absence"},{"s":"KYE057","g":"CFA/I fimbriae","v":"Absence"},{"s":"KYE057","g":"F1C fimbriae","v":"Absence"},{"s":"KYE057","g":"APEC autotransporter","v":"Absence"},
{"s":"KYE042","g":"T2SS","v":"Presence"},{"s":"KYE042","g":"group 2 capsule","v":"Presence"},{"s":"KYE042","g":"Hemin utilization","v":"Presence"},{"s":"KYE042","g":"F9 fimbriae","v":"Presence"},{"s":"KYE042","g":"Yersiniabactin","v":"Presence"},{"s":"KYE042","g":"sit iron/manganese utilization","v":"Presence"},{"s":"KYE042","g":"Enterobactin","v":"Presence"},{"s":"KYE042","g":"PpdD pili","v":"Presence"},{"s":"KYE042","g":"T4a pili","v":"Presence"},{"s":"KYE042","g":"Type I pilli","v":"Presence"},{"s":"KYE042","g":"E. coli common pilus","v":"Presence"},{"s":"KYE042","g":"Motility and Chemotaxis","v":"Presence"},{"s":"KYE042","g":"Curli biosynthesis","v":"Presence"},{"s":"KYE042","g":"Aerobactin","v":"Presence"},{"s":"KYE042","g":"malX","v":"Presence"},{"s":"KYE042","g":"ompT","v":"Presence"},{"s":"KYE042","g":"usp","v":"Presence"},{"s":"KYE042","g":"traT","v":"Absence"},{"s":"KYE042","g":"P fimbriae","v":"Presence"},{"s":"KYE042","g":"α-Hemolysin","v":"Absence"},{"s":"KYE042","g":"cnf1","v":"Presence"},{"s":"KYE042","g":"T6SS-1","v":"Presence"},{"s":"KYE042","g":"T6SS-2","v":"Absence"},{"s":"KYE042","g":"Afa/Dra fimbriae","v":"Absence"},{"s":"KYE042","g":"T3SS-esp","v":"Absence"},{"s":"KYE042","g":"Ycb fimbriae","v":"Absence"},{"s":"KYE042","g":"2nd Type3SS-epa","v":"Absence"},{"s":"KYE042","g":"Colibactin","v":"Presence"},{"s":"KYE042","g":"Invasin","v":"Absence"},{"s":"KYE042","g":"Salmochelin","v":"Absence"},{"s":"KYE042","g":"S fimbriae","v":"Absence"},{"s":"KYE042","g":"CS12 fimbriae","v":"Absence"},{"s":"KYE042","g":"pix fimbriae","v":"Absence"},{"s":"KYE042","g":"CFA/I fimbriae","v":"Absence"},{"s":"KYE042","g":"F1C fimbriae","v":"Absence"},{"s":"KYE042","g":"APEC autotransporter","v":"Absence"},
{"s":"KYE016","g":"T2SS","v":"Presence"},{"s":"KYE016","g":"group 2 capsule","v":"Presence"},{"s":"KYE016","g":"Hemin utilization","v":"Presence"},{"s":"KYE016","g":"F9 fimbriae","v":"Presence"},{"s":"KYE016","g":"Yersiniabactin","v":"Presence"},{"s":"KYE016","g":"sit iron/manganese utilization","v":"Presence"},{"s":"KYE016","g":"Enterobactin","v":"Presence"},{"s":"KYE016","g":"PpdD pili","v":"Presence"},{"s":"KYE016","g":"T4a pili","v":"Presence"},{"s":"KYE016","g":"Type I pilli","v":"Presence"},{"s":"KYE016","g":"E. coli common pilus","v":"Presence"},{"s":"KYE016","g":"Motility and Chemotaxis","v":"Presence"},{"s":"KYE016","g":"Curli biosynthesis","v":"Presence"},{"s":"KYE016","g":"Aerobactin","v":"Presence"},{"s":"KYE016","g":"malX","v":"Presence"},{"s":"KYE016","g":"ompT","v":"Presence"},{"s":"KYE016","g":"usp","v":"Presence"},{"s":"KYE016","g":"traT","v":"Absence"},{"s":"KYE016","g":"P fimbriae","v":"Presence"},{"s":"KYE016","g":"α-Hemolysin","v":"Absence"},{"s":"KYE016","g":"cnf1","v":"Absence"},{"s":"KYE016","g":"T6SS-1","v":"Presence"},{"s":"KYE016","g":"T6SS-2","v":"Presence"},{"s":"KYE016","g":"Afa/Dra fimbriae","v":"Absence"},{"s":"KYE016","g":"T3SS-esp","v":"Absence"},{"s":"KYE016","g":"Ycb fimbriae","v":"Absence"},{"s":"KYE016","g":"2nd Type3SS-epa","v":"Absence"},{"s":"KYE016","g":"Colibactin","v":"Absence"},{"s":"KYE016","g":"Invasin","v":"Absence"},{"s":"KYE016","g":"Salmochelin","v":"Absence"},{"s":"KYE016","g":"S fimbriae","v":"Absence"},{"s":"KYE016","g":"CS12 fimbriae","v":"Absence"},{"s":"KYE016","g":"pix fimbriae","v":"Absence"},{"s":"KYE016","g":"CFA/I fimbriae","v":"Absence"},{"s":"KYE016","g":"F1C fimbriae","v":"Absence"},{"s":"KYE016","g":"APEC autotransporter","v":"Absence"},
{"s":"KYE059","g":"T2SS","v":"Presence"},{"s":"KYE059","g":"group 2 capsule","v":"Presence"},{"s":"KYE059","g":"Hemin utilization","v":"Presence"},{"s":"KYE059","g":"F9 fimbriae","v":"Presence"},{"s":"KYE059","g":"Yersiniabactin","v":"Presence"},{"s":"KYE059","g":"sit iron/manganese utilization","v":"Presence"},{"s":"KYE059","g":"Enterobactin","v":"Presence"},{"s":"KYE059","g":"PpdD pili","v":"Presence"},{"s":"KYE059","g":"T4a pili","v":"Presence"},{"s":"KYE059","g":"Type I pilli","v":"Presence"},{"s":"KYE059","g":"E. coli common pilus","v":"Presence"},{"s":"KYE059","g":"Motility and Chemotaxis","v":"Presence"},{"s":"KYE059","g":"Curli biosynthesis","v":"Presence"},{"s":"KYE059","g":"Aerobactin","v":"Presence"},{"s":"KYE059","g":"malX","v":"Presence"},{"s":"KYE059","g":"ompT","v":"Presence"},{"s":"KYE059","g":"usp","v":"Presence"},{"s":"KYE059","g":"traT","v":"Absence"},{"s":"KYE059","g":"P fimbriae","v":"Absence"},{"s":"KYE059","g":"α-Hemolysin","v":"Absence"},{"s":"KYE059","g":"cnf1","v":"Absence"},{"s":"KYE059","g":"T6SS-1","v":"Presence"},{"s":"KYE059","g":"T6SS-2","v":"Presence"},{"s":"KYE059","g":"Afa/Dra fimbriae","v":"Absence"},{"s":"KYE059","g":"T3SS-esp","v":"Absence"},{"s":"KYE059","g":"Ycb fimbriae","v":"Absence"},{"s":"KYE059","g":"2nd Type3SS-epa","v":"Absence"},{"s":"KYE059","g":"Colibactin","v":"Absence"},{"s":"KYE059","g":"Invasin","v":"Absence"},{"s":"KYE059","g":"Salmochelin","v":"Absence"},{"s":"KYE059","g":"S fimbriae","v":"Absence"},{"s":"KYE059","g":"CS12 fimbriae","v":"Absence"},{"s":"KYE059","g":"pix fimbriae","v":"Absence"},{"s":"KYE059","g":"CFA/I fimbriae","v":"Absence"},{"s":"KYE059","g":"F1C fimbriae","v":"Absence"},{"s":"KYE059","g":"APEC autotransporter","v":"Absence"}
],
"rowLinks": [
{"h":0,"a":2,"ha":0,"b":3,"hb":0},
{"h":4.504,"a":1,"ha":0,"b":2.5,"hb":0},
{"h":7.778,"a":4,"ha":0,"b":5,"hb":0},
{"h":0,"a":7,"ha":0,"b":8,"hb":0},
{"h":0,"a":9,"ha":0,"b":11,"hb":0},
{"h":3.196,"a":7.5,"ha":0,"b":9.75,"hb":0},
{"h":4.504,"a":12,"ha":0,"b":13,"hb":0},
{"h":5.456,"a":8.625,"ha":3.196,"b":12.5,"hb":4.504},
{"h":0,"a":16,"ha":0,"b":17,"hb":0},
{"h":3.196,"a":15,"ha":0,"b":16.5,"hb":0},
{"h":0,"a":19,"ha":0,"b":21,"hb":0},
{"h":3.196,"a":18,"ha":0,"b":19.75,"hb":0},
{"h":4.344,"a":15.75,"ha":3.196,"b":18.875,"hb":3.196},
{"h":4.504,"a":22,"ha":0,"b":23,"hb":0},
{"h":4.789,"a":17.3125,"ha":4.344,"b":22.5,"hb":4.504},
{"h":5.704,"a":14,"ha":0,"b":19.906,"hb":4.789},
{"h":3.196,"a":25,"ha":0,"b":26,"hb":0},
{"h":5.926,"a":24,"ha":0,"b":25.5,"hb":3.196},
{"h":6.578,"a":16.953,"ha":5.704,"b":24.75,"hb":5.926},
{"h":7.17,"a":10.563,"ha":5.456,"b":20.852,"hb":6.578},
{"h":8.296,"a":6,"ha":0,"b":15.707,"hb":7.17},
{"h":8.874,"a":4.5,"ha":7.778,"b":10.853,"hb":8.296},
{"h":10.678,"a":1.75,"ha":4.504,"b":7.677,"hb":8.874},
{"h":11.467,"a":0,"ha":0,"b":4.713,"hb":10.678}
],
"colLinks": [
{"h":0,"a":4,"ha":0,"b":12,"hb":0},
{"h":1.888,"a":3,"ha":0,"b":5,"hb":0},
{"h":1.955,"a":2,"ha":0,"b":4,"hb":1.888},
{"h":2.645,"a":1,"ha":0,"b":3,"hb":1.955},
{"h":0,"a":14,"ha":0,"b":16,"hb":0},
{"h":3.264,"a":13,"ha":0,"b":14.75,"hb":0},
{"h":3.719,"a":2,"ha":2.645,"b":13.875,"hb":3.264},
{"h":5.302,"a":0,"ha":0,"b":7.938,"hb":3.719},
{"h":3.264,"a":19,"ha":0,"b":20,"hb":0},
{"h":3.996,"a":18,"ha":0,"b":19.5,"hb":3.264},
{"h":0,"a":24,"ha":0,"b":26,"hb":0},
{"h":0,"a":31,"ha":0,"b":33,"hb":0},
{"h":1.888,"a":30,"ha":0,"b":31.75,"hb":0},
{"h":2.467,"a":29,"ha":0,"b":30.875,"hb":1.888},
{"h":2.657,"a":34,"ha":0,"b":35,"hb":0},
{"h":2.893,"a":29.938,"ha":2.467,"b":34.5,"hb":2.657},
{"h":3.182,"a":28,"ha":0,"b":32.219,"hb":2.893},
{"h":3.607,"a":27,"ha":0,"b":30.109,"hb":3.182},
{"h":3.996,"a":24.75,"ha":0,"b":28.555,"hb":3.607},
{"h":5.124,"a":23,"ha":0,"b":26.652,"hb":3.996},
{"h":5.248,"a":22,"ha":0,"b":24.826,"hb":5.124},
{"h":5.607,"a":21,"ha":0,"b":23.413,"hb":5.248},
{"h":6.364,"a":18.75,"ha":3.996,"b":22.207,"hb":5.607},
{"h":6.847,"a":17,"ha":0,"b":20.478,"hb":6.364},
{"h":8.607,"a":3.969,"ha":5.302,"b":18.739,"hb":6.847}
],
"stBar": [
{"s":"536","st":"ST127"},{"s":"KYE011","st":"ST38"},{"s":"KYE006","st":"ST38"},{"s":"KYE020","st":"ST38"},{"s":"KYE034","st":"ST95"},{"s":"UTI89","st":"ST95"},{"s":"CFT073","st":"ST73"},{"s":"KYE027","st":"ST131"},{"s":"KYE049","st":"ST131"},{"s":"KYE054","st":"ST131"},{"s":"KYE040","st":"ST131"},{"s":"KYE047","st":"ST131"},{"s":"KYE035","st":"ST131"},{"s":"KYE064","st":"ST1193"},{"s":"KYE013","st":"ST131"},{"s":"EC958","st":"ST131"},{"s":"KYE019","st":"ST131"},{"s":"KYE024","st":"ST131"},{"s":"KYE056","st":"ST131"},{"s":"KYE062","st":"ST131"},{"s":"KYE026","st":"ST131"},{"s":"KYE060","st":"ST131"},{"s":"KYE008","st":"ST131"},{"s":"KYE057","st":"ST131"},{"s":"KYE042","st":"ST73"},{"s":"KYE016","st":"ST1193"},{"s":"KYE059","st":"ST1193"}
],
"stLabels": [
{"label":"ST127","pos":0},{"label":"ST38","pos":2},{"label":"ST95","pos":4.35},{"label":"ST73","pos":5.95},{"label":"ST131","pos":9.05},{"label":"ST1193","pos":12.85},{"label":"ST131","pos":17.45},{"label":"ST73","pos":24.1},{"label":"ST1193","pos":25.6}
]
},
"layer": [
{
"data": {"name": "cells"},
"mark": {"type": "rect", "stroke": "#ffffff", "strokeWidth": 0.8, "strokeOpacity": 0.8},
"encoding": {
"x": {"field": "g", "type": "nominal",
"scale": {"domain": ["T2SS","group 2 capsule","Hemin utilization","F9 fimbriae","Yersiniabactin","sit iron/manganese utilization","Enterobactin","PpdD pili","T4a pili","Type I pilli","E. coli common pilus","Motility and Chemotaxis","Curli biosynthesis","Aerobactin","malX","ompT","usp","traT","P fimbriae","α-Hemolysin","cnf1","T6SS-1","T6SS-2","Afa/Dra fimbriae","T3SS-esp","Ycb fimbriae","2nd Type3SS-epa","Colibactin","Invasin","Salmochelin","S fimbriae","CS12 fimbriae","pix fimbriae","CFA/I fimbriae","F1C fimbriae","APEC autotransporter"], "paddingInner": 0, "paddingOuter": 0},
"axis": {"orient": "bottom", "title": "Virulence associated gene or gene loci", "labelAngle": 270, "labelFont": "DejaVu Sans", "labelFontSize": 15, "labelColor": "#1a1a1a", "labelLimit": 400, "labelPadding": 5, "tickSize": 5, "tickColor": "#333333", "domain": false, "titleFont": "DejaVu Sans", "titleFontSize": 15, "titleFontWeight": "normal", "titleColor": "#1a1a1a", "titlePadding": 41}},
"y": {"field": "s", "type": "nominal",
"scale": {"domain": ["536","KYE011","KYE006","KYE020","KYE034","UTI89","CFT073","KYE027","KYE049","KYE054","KYE040","KYE047","KYE035","KYE064","KYE013","EC958","KYE019","KYE024","KYE056","KYE062","KYE026","KYE060","KYE008","KYE057","KYE042","KYE016","KYE059"], "paddingInner": 0, "paddingOuter": 0},
"axis": {"orient": "right", "title": null, "labelFont": "DejaVu Sans", "labelFontSize": 15, "labelColor": "#1a1a1a", "labelPadding": 4, "tickSize": 5, "tickColor": "#333333", "domain": false}},
"fill": {"field": "v", "type": "nominal",
"scale": {"domain": ["Presence", "Absence"], "range": ["#4d004b", "#f7fcfd"]},
"legend": {"orient": "none", "legendX": -230, "legendY": -278, "title": null, "direction": "vertical", "symbolType": "square", "symbolSize": 1156, "symbolStrokeColor": "#25343c", "symbolStrokeWidth": 1.5, "symbolOpacity": 1, "labelFont": "Liberation Sans", "labelFontSize": 43, "labelColor": "#000000", "labelOffset": 8, "rowPadding": 14, "padding": 0, "labelLimit": 500}}
}
},
{
"data": {"name": "rowLinks"},
"mark": {"type": "rule", "color": "#8c8c8c", "strokeWidth": 1.3},
"encoding": {
"x": {"field": "h", "type": "quantitative", "scale": {"domain": [0, -36], "nice": false, "zero": false}, "axis": null},
"y": {"field": "a", "type": "quantitative", "scale": {"domain": [-0.5, 26.5], "reverse": true, "nice": false, "zero": false}, "axis": null},
"y2": {"field": "b"}
}
},
{
"data": {"name": "rowLinks"},
"mark": {"type": "rule", "color": "#8c8c8c", "strokeWidth": 1.3},
"encoding": {
"x": {"field": "ha", "type": "quantitative", "scale": {"domain": [0, -36], "nice": false, "zero": false}, "axis": null},
"x2": {"field": "h"},
"y": {"field": "a", "type": "quantitative", "scale": {"domain": [-0.5, 26.5], "reverse": true, "nice": false, "zero": false}, "axis": null}
}
},
{
"data": {"name": "rowLinks"},
"mark": {"type": "rule", "color": "#8c8c8c", "strokeWidth": 1.3},
"encoding": {
"x": {"field": "hb", "type": "quantitative", "scale": {"domain": [0, -36], "nice": false, "zero": false}, "axis": null},
"x2": {"field": "h"},
"y": {"field": "b", "type": "quantitative", "scale": {"domain": [-0.5, 26.5], "reverse": true, "nice": false, "zero": false}, "axis": null}
}
},
{
"data": {"name": "colLinks"},
"mark": {"type": "rule", "color": "#8c8c8c", "strokeWidth": 1.3},
"encoding": {
"x": {"field": "a", "type": "quantitative", "scale": {"domain": [-0.5, 35.5], "nice": false, "zero": false}, "axis": null},
"x2": {"field": "b"},
"y": {"field": "h", "type": "quantitative", "scale": {"domain": [-27, 0], "nice": false, "zero": false}, "axis": null}
}
},
{
"data": {"name": "colLinks"},
"mark": {"type": "rule", "color": "#8c8c8c", "strokeWidth": 1.3},
"encoding": {
"x": {"field": "a", "type": "quantitative", "scale": {"domain": [-0.5, 35.5], "nice": false, "zero": false}, "axis": null},
"y": {"field": "ha", "type": "quantitative", "scale": {"domain": [-27, 0], "nice": false, "zero": false}, "axis": null},
"y2": {"field": "h"}
}
},
{
"data": {"name": "colLinks"},
"mark": {"type": "rule", "color": "#8c8c8c", "strokeWidth": 1.3},
"encoding": {
"x": {"field": "b", "type": "quantitative", "scale": {"domain": [-0.5, 35.5], "nice": false, "zero": false}, "axis": null},
"y": {"field": "hb", "type": "quantitative", "scale": {"domain": [-27, 0], "nice": false, "zero": false}, "axis": null},
"y2": {"field": "h"}
}
},
{
"data": {"name": "stBar"},
"mark": {"type": "rect"},
"encoding": {
"y": {"field": "s", "type": "nominal", "scale": {"domain": ["536","KYE011","KYE006","KYE020","KYE034","UTI89","CFT073","KYE027","KYE049","KYE054","KYE040","KYE047","KYE035","KYE064","KYE013","EC958","KYE019","KYE024","KYE056","KYE062","KYE026","KYE060","KYE008","KYE057","KYE042","KYE016","KYE059"], "paddingInner": 0, "paddingOuter": 0}, "axis": null},
"x": {"datum": 38.34, "type": "quantitative", "scale": {"domain": [-0.5, 35.5], "nice": false, "zero": false}, "axis": null},
"x2": {"datum": 39.23},
"fill": {"field": "st", "type": "nominal", "scale": {"domain": ["ST127","ST38","ST95","ST73","ST131","ST1193"], "range": ["#d3d3d3","#0a6fc0","#7030a0","#00b0f0","#ff0000","#00b050"]}, "legend": null}
}
},
{
"data": {"name": "stLabels"},
"mark": {"type": "text", "align": "left", "baseline": "middle", "font": "Liberation Sans", "fontSize": 35, "color": "#000000"},
"encoding": {
"x": {"datum": 39.97, "type": "quantitative", "scale": {"domain": [-0.5, 35.5], "nice": false, "zero": false}, "axis": null},
"y": {"field": "pos", "type": "quantitative", "scale": {"domain": [-0.5, 26.5], "reverse": true, "nice": false, "zero": false}, "axis": null},
"text": {"field": "label"}
}
},
{
"data": {"values": [{"box": "malX–usp"}]},
"mark": {"type": "rect", "fill": "transparent", "stroke": "#f5280f", "strokeWidth": 5},
"encoding": {
"x": {"datum": 13.404, "type": "quantitative", "scale": {"domain": [-0.5, 35.5], "nice": false, "zero": false}, "axis": null},
"x2": {"datum": 16.389},
"y": {"datum": -1.657, "type": "quantitative", "scale": {"domain": [-0.5, 26.5], "reverse": true, "nice": false, "zero": false}, "axis": null},
"y2": {"datum": 34.8}
}
},
{
"data": {"values": [{"box": "T3SS-esp–2nd Type3SS-epa"}]},
"mark": {"type": "rect", "fill": "transparent", "stroke": "#0a6ec2", "strokeWidth": 5},
"encoding": {
"x": {"datum": 23.404, "type": "quantitative", "scale": {"domain": [-0.5, 35.5], "nice": false, "zero": false}, "axis": null},
"x2": {"datum": 26.352},
"y": {"datum": -1.657, "type": "quantitative", "scale": {"domain": [-0.5, 26.5], "reverse": true, "nice": false, "zero": false}, "axis": null},
"y2": {"datum": 34.8}
}
}
],
"resolve": {"scale": {"x": "independent", "y": "independent", "fill": "independent", "color": "independent"}}
}
